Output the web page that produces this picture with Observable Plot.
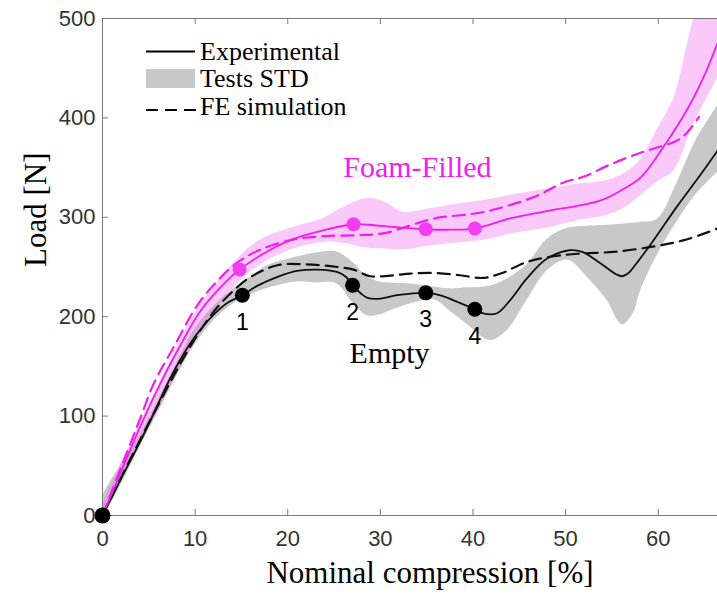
<!DOCTYPE html>
<html>
<head>
<meta charset="utf-8">
<script src="https://cdn.jsdelivr.net/npm/d3@7"></script>
<script src="https://cdn.jsdelivr.net/npm/@observablehq/plot@0.6"></script>
<style>
  html, body { margin: 0; padding: 0; background: #fff; }
  #chart { width: 717px; height: 596px; }
</style>
</head>
<body>
<div id="chart"></div>
<script>
// Load vs. nominal compression for empty and foam-filled specimens

const xTicks = [0, 10, 20, 30, 40, 50, 60];
const yTicks = [0, 100, 200, 300, 400, 500];

// Empty specimen, experimental mean curve: [compression %, load N]
const emptyExp = [
  [0, 0], [2, 37], [4, 73], [5.6, 104], [7.2, 136], [8.6, 160], [10, 180], [12, 202],
  [13.5, 214], [15.1, 221.6], [16.7, 231], [18.9, 240], [21, 246], [23.2, 247.4],
  [25.3, 245], [26.3, 240], [27, 231.6], [27.9, 223.3], [28.6, 219], [30, 218.2],
  [31.8, 221.6], [33.3, 223.3], [34.9, 224], [36.5, 221.5], [38.4, 214.5], [40.2, 207.5],
  [41.2, 203], [42.6, 203.5], [44, 216.5], [45.8, 238.3], [48, 258.5], [50.5, 266.9],
  [51.8, 265.2], [53.8, 253.5], [55.4, 243], [56.1, 240.7], [56.8, 244], [57.6, 253],
  [59.5, 277], [62, 310.5], [64.5, 342], [66.4, 367]
];

// Empty specimen, FE simulation
const emptyFE = [
  [0, 0], [2, 38], [4, 75], [6, 111], [8, 146], [10, 178], [12, 205], [14, 225], [16, 240],
  [18.9, 251.8], [21.7, 252.8], [24.6, 250.8], [27.1, 247.4], [28.9, 240.7], [31.1, 241.4],
  [33.3, 243.4], [35.8, 244], [38.6, 241.7], [41, 239], [43, 243.4], [45.8, 255],
  [48.7, 260.8], [51.6, 263.5], [55.2, 265.2], [59.2, 270.2], [62.8, 277], [66.4, 288.7]
];

// Empty specimen, tests standard deviation: [compression %, lower N, upper N]
const emptyStd = [
  [0, 0, 20], [1, 13, 36], [2.5, 40, 58], [4, 68, 80], [6, 104, 116], [8, 140, 153],
  [10, 172, 188], [12, 196, 210], [14, 212, 227], [16, 222, 240], [18, 229, 252],
  [21, 235, 260], [23, 234, 264], [25.3, 233, 265], [27.1, 213, 254], [28.6, 201, 240],
  [30, 202, 235], [31.1, 206, 234], [33.3, 213, 233], [35.8, 217, 230], [37.6, 205, 228],
  [39.4, 192, 229], [41.9, 176, 231], [43.7, 186, 238], [45.8, 216, 252], [48, 246, 278],
  [50.2, 257, 289], [52.3, 240, 291], [54.5, 216, 292], [56.1, 192, 293], [57.3, 203, 294],
  [58.1, 226, 295], [59.9, 262, 298], [62, 295, 334], [64, 322, 376], [66.4, 345, 412]
];

// Foam-filled specimen, experimental mean curve
const foamExp = [
  [0, 0], [2, 44], [4, 88], [6.3, 134], [8.1, 166], [10.6, 206], [13.1, 233], [14.8, 247.4],
  [17.4, 263.5], [20.3, 277], [23.9, 287], [27.1, 293], [29.3, 292], [31.8, 290],
  [34.9, 288], [37.5, 287.5], [40.2, 288.7], [44, 298.8], [48.4, 307], [51, 311],
  [53.8, 317], [56, 327], [58.2, 341], [60.5, 370], [63.1, 408], [64.9, 441], [66.4, 475]
];

// Foam-filled specimen, FE simulation
const foamFE = [
  [0, 0], [2, 48], [4, 96], [5.6, 134], [7.7, 169.5], [10.2, 211], [12.4, 236], [14.2, 252],
  [16.7, 266], [20.3, 277], [23.9, 281], [27.5, 282], [30.4, 284], [33.3, 292], [35.8, 298.8],
  [41.2, 305.4], [46.6, 320.5], [49.8, 335], [52, 341], [54.8, 353], [58.1, 365],
  [60.2, 371], [62, 377], [63.1, 385], [64.4, 401]
];

// Foam-filled specimen, tests standard deviation
const foamStd = [
  [0, 0, 10], [2, 34, 52], [4, 70, 92], [6, 104, 130], [8, 140, 168], [10, 176, 204],
  [12, 206, 230], [14.8, 235, 260], [17, 252, 277], [20.3, 267, 289], [23.9, 275, 299],
  [26, 274, 310], [28.6, 269, 319], [30.5, 268, 315], [32.5, 267, 305], [35, 271, 308],
  [38, 274, 313], [41.2, 277, 317], [44, 283, 322], [48.4, 290, 329], [51, 296, 333],
  [54.5, 302, 337], [56.5, 310, 345], [58.1, 322, 358], [60, 336, 390], [61.7, 347, 420],
  [63.8, 393, 498], [66.4, 440, 570]
];

// Marked deformation states 1-4
const stateLabels = ["1", "2", "3", "4"];
const emptyStates = [[15.1, 221.6], [27.0, 231.6], [34.9, 224], [40.2, 207.5]];
const foamStates = [[14.8, 247.4], [27.1, 293], [34.9, 288], [40.2, 288.7]];
const origin = [[0, 0]];

// Curve names written beside the curves
const curveNames = ["Foam-Filled", "Empty"];
const curveNameX = [34.0, 31.0];
const curveNameY = [350, 163];

const legendNames = ["Experimental", "Tests STD", "FE simulation"];
const xTitle = "Nominal compression [%]";
const yTitle = "Load [N]";

// ---- layout & style ----
const W = 717, H = 596;
const mL = 102, mR = 0, mT = 18, mB = 81;
const plotH = H - mT - mB;
const plotW = W - mL - mR;
const serif = "'Liberation Serif', 'Times New Roman', serif";
const sans = "'Liberation Sans', Arial, Helvetica, sans-serif";
const magenta = "#f01ef0";
const magentaDot = "#f43cf0";
const axisGray = "#7a7a7a";
const X = d => d[0], Y = d => d[1];
const curve = "catmull-rom";
const dash = "12,7";

const chart = Plot.plot({
  width: W, height: H,
  marginLeft: mL, marginRight: mR, marginTop: mT, marginBottom: mB,
  style: { fontFamily: sans, background: "#fff", color: "#333", overflow: "visible" },
  x: { domain: [0, 66.4] },
  y: { domain: [0, 500] },
  marks: [
    // standard deviation bands
    Plot.areaY(emptyStd, { x: X, y1: d => d[1], y2: d => d[2], fill: "#c8c8c8", curve, clip: true }),
    Plot.areaY(foamStd, { x: X, y1: d => d[1], y2: d => d[2], fill: "#f060ee", fillOpacity: 0.35, curve, clip: true }),

    // frame (left, bottom, top) and inward ticks
    Plot.ruleX([0], { stroke: axisGray, strokeWidth: 1 }),
    Plot.ruleY([0, 500], { stroke: axisGray, strokeWidth: 1 }),
    Plot.tickX(xTicks.slice(1), { x: d => d, insetTop: plotH - 6, stroke: axisGray }),
    Plot.tickX(xTicks.slice(1), { x: d => d, insetBottom: plotH - 6, stroke: axisGray }),
    Plot.tickY(yTicks.slice(1, -1), { y: d => d, insetRight: plotW - 6, stroke: axisGray }),

    // FE simulations
    Plot.line(emptyFE, { x: X, y: Y, stroke: "#111", strokeWidth: 2.2, strokeDasharray: dash, curve, clip: true }),
    Plot.line(foamFE, { x: X, y: Y, stroke: magenta, strokeWidth: 2.2, strokeDasharray: dash, curve, clip: true }),

    // experimental means
    Plot.line(emptyExp, { x: X, y: Y, stroke: "#111", strokeWidth: 1.8, curve, clip: true }),
    Plot.line(foamExp, { x: X, y: Y, stroke: magenta, strokeWidth: 1.8, curve, clip: true }),

    // marked states
    Plot.dot(foamStates, { x: X, y: Y, r: 7, fill: magentaDot }),
    Plot.dot(emptyStates, { x: X, y: Y, r: 7.5, fill: "#000" }),
    Plot.dot(origin, { x: X, y: Y, r: 8, fill: "#000" }),
    Plot.text(emptyStates, { x: X, y: Y, text: (d, i) => stateLabels[i], dy: 27, fontSize: 23, fill: "#000", fontFamily: sans }),

    // curve names
    Plot.text(curveNames, {
      x: (d, i) => curveNameX[i], y: (d, i) => curveNameY[i], text: d => d,
      fill: (d, i) => (i === 0 ? magenta : "#000"), fontSize: 30, fontFamily: serif
    }),

    // axes
    Plot.axisX(xTicks, { tickSize: 0, tickPadding: 15, fontSize: 22, label: null, fill: "#333" }),
    Plot.axisY(yTicks, { tickSize: 0, tickPadding: 7, fontSize: 22, label: null, fill: "#333" }),
    Plot.text([xTitle], { frameAnchor: "bottom", text: d => d, dx: 20, dy: 67, fontSize: 31, fontFamily: serif, fill: "#000" }),
    Plot.text([yTitle], { frameAnchor: "left", text: d => d, rotate: -90, dx: -66, fontSize: 31, fontFamily: serif, fill: "#000" })
  ]
});

document.getElementById("chart").appendChild(chart);

// legend in the upper-left corner of the plot area
const svg = d3.select(chart);
const lg = svg.append("g")
  .attr("font-family", serif).attr("font-size", 26).attr("fill", "#000")
  .attr("text-anchor", "start");
lg.append("line").attr("x1", 146).attr("x2", 195).attr("y1", 51.5).attr("y2", 51.5)
  .attr("stroke", "#000").attr("stroke-width", 2.2);
lg.append("rect").attr("x", 146).attr("y", 69).attr("width", 49).attr("height", 19).attr("fill", "#c8c8c8");
lg.append("line").attr("x1", 146).attr("x2", 196).attr("y1", 110).attr("y2", 110)
  .attr("stroke", "#000").attr("stroke-width", 2.2).attr("stroke-dasharray", "12,7");
const baselines = [60, 87, 115];
legendNames.forEach((name, i) => {
  lg.append("text").attr("x", 200).attr("y", baselines[i]).text(name);
});
</script>
</body>
</html>
